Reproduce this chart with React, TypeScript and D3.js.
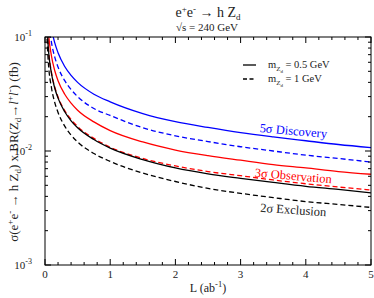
import React from "react";
import * as d3 from "d3";

// luminosity points (ab^-1)
const lumi = [0.02, 0.05, 0.1, 0.15, 0.2, 0.3, 0.4, 0.5, 0.75, 1, 1.5, 2, 2.5, 3, 3.5, 4, 4.5, 5];

// sigma x BR (fb) needed
const disc05 = [0.446, 0.204, 0.119, 0.0888, 0.0727, 0.0554, 0.0461, 0.04, 0.0315, 0.027, 0.0213, 0.0181, 0.0161, 0.0145, 0.0133, 0.0123, 0.0114, 0.0107];
const disc1 = [0.335, 0.153, 0.0893, 0.0666, 0.0545, 0.0416, 0.0346, 0.03, 0.0236, 0.0205, 0.016, 0.0136, 0.0121, 0.0109, 0.01, 0.0092, 0.0086, 0.008];
const obs05 = [0.254, 0.116, 0.0678, 0.0506, 0.0414, 0.0316, 0.0263, 0.0228, 0.018, 0.0151, 0.012, 0.0102, 0.0091, 0.0083, 0.0076, 0.0071, 0.0066, 0.00625];
const obs1 = [0.183, 0.0836, 0.0488, 0.0364, 0.0298, 0.0227, 0.0189, 0.0164, 0.0129, 0.0108, 0.0086, 0.0074, 0.0066, 0.00607, 0.00557, 0.00516, 0.00483, 0.00455];
const excl05 = [0.178, 0.0816, 0.0476, 0.0355, 0.0291, 0.0222, 0.0184, 0.016, 0.0126, 0.0106, 0.0084, 0.0071, 0.0063, 0.00576, 0.0053, 0.0049, 0.0046, 0.0043];
const excl1 = [0.134, 0.0612, 0.0357, 0.0266, 0.0218, 0.0166, 0.0138, 0.012, 0.0095, 0.0081, 0.0064, 0.0054, 0.0047, 0.00425, 0.0039, 0.0036, 0.0034, 0.0032];

const xTicks = [0, 1, 2, 3, 4, 5];
const yTickExp = [-1, -2, -3];

const W = 374, H = 298;
const left = 45, right = 371, top = 37, bottom = 265;
const font = "'Liberation Serif', 'Times New Roman', serif";
const ink = "#222";

const App = () => {
  const x = d3.scaleLinear().domain([0, 5]).range([left, right]);
  const y = d3.scaleLog().domain([0.001, 0.1]).range([bottom, top]);

  const line = (vals: number[]) =>
    d3.line<number>()
      .x((d, i) => x(lumi[i]))
      .y((d) => y(d))
      .curve(d3.curveMonotoneX)(vals) as string;

  const series = [
    { v: disc05, c: "#0000ff", dash: "" },
    { v: disc1, c: "#0000ff", dash: "5,3" },
    { v: obs05, c: "#ff0000", dash: "" },
    { v: obs1, c: "#ff0000", dash: "5,3" },
    { v: excl05, c: "#000000", dash: "" },
    { v: excl1, c: "#000000", dash: "5,3" },
  ];

  const minorX = d3.range(0, 5.001, 0.2).filter((t) => Math.abs(t - Math.round(t)) > 0.01);
  const minorY: number[] = [];
  [0.001, 0.01].forEach((b) => {
    for (let k = 2; k <= 9; k++) minorY.push(b * k);
  });

  return (
    <svg width={W} height={H} style={{ position: "absolute", left: 0, top: 0 }}>
      <rect width={W} height={H} fill="#fff" />
      <defs>
        <clipPath id="plot">
          <rect x={left} y={top} width={right - left} height={bottom - top} />
        </clipPath>
      </defs>

      {/* title */}
      <text x={208} y={17} textAnchor="middle" fontFamily={font} fontSize={14} fill={ink}>
        e<tspan dy={-5} fontSize={9}>+</tspan><tspan dy={5}>e</tspan><tspan dy={-5} fontSize={9}>-</tspan>
        <tspan dy={5}> → h Z</tspan><tspan dy={3} fontSize={9}>d</tspan>
      </text>
      <text x={207} y={31} textAnchor="middle" fontFamily={font} fontSize={11} fill={ink}>
        √s = 240 GeV
      </text>

      {/* curves */}
      <g clipPath="url(#plot)">
        {series.map((s, i) => (
          <path key={i} d={line(s.v)} fill="none" stroke={s.c} strokeWidth={1.3} strokeDasharray={s.dash} />
        ))}
      </g>

      {/* frame and ticks */}
      <rect x={left} y={top} width={right - left} height={bottom - top} fill="none" stroke="#000" strokeWidth={1} />
      {xTicks.map((t) => (
        <g key={"xt" + t}>
          <line x1={x(t)} x2={x(t)} y1={bottom} y2={bottom - 6} stroke="#000" />
          <line x1={x(t)} x2={x(t)} y1={top} y2={top + 6} stroke="#000" />
          <text x={x(t)} y={bottom + 13} textAnchor="middle" fontFamily={font} fontSize={11} fill={ink}>{t}</text>
        </g>
      ))}
      {minorX.map((t, i) => (
        <g key={"xm" + i}>
          <line x1={x(t)} x2={x(t)} y1={bottom} y2={bottom - 3} stroke="#000" />
          <line x1={x(t)} x2={x(t)} y1={top} y2={top + 3} stroke="#000" />
        </g>
      ))}
      {yTickExp.map((e) => (
        <g key={"yt" + e}>
          <line x1={left} x2={left + 6} y1={y(Math.pow(10, e))} y2={y(Math.pow(10, e))} stroke="#000" />
          <line x1={right} x2={right - 6} y1={y(Math.pow(10, e))} y2={y(Math.pow(10, e))} stroke="#000" />
          <text x={left - 13} y={y(Math.pow(10, e)) + 4} textAnchor="end" fontFamily={font} fontSize={11} fill={ink}>
            10<tspan dy={-5} fontSize={8}>{e}</tspan>
          </text>
        </g>
      ))}
      {minorY.map((t, i) => (
        <g key={"ym" + i}>
          <line x1={left} x2={left + 3} y1={y(t)} y2={y(t)} stroke="#000" />
          <line x1={right} x2={right - 3} y1={y(t)} y2={y(t)} stroke="#000" />
        </g>
      ))}

      {/* axis labels */}
      <text x={208} y={292} textAnchor="middle" fontFamily={font} fontSize={12} fill={ink}>
        L (ab<tspan dy={-5} fontSize={8.5}>-1</tspan><tspan dy={5}>)</tspan>
      </text>
      <text transform="translate(18,152) rotate(-90)" textAnchor="middle" fontFamily={font} fontSize={13} fill={ink}>
        σ(e<tspan dy={-5} fontSize={9}>+</tspan><tspan dy={5}>e</tspan><tspan dy={-5} fontSize={9}>-</tspan>
        <tspan dy={5}> → h Z</tspan><tspan dy={3} fontSize={9}>d</tspan><tspan dy={-3}>) x BR(Z</tspan>
        <tspan dy={3} fontSize={9}>d</tspan><tspan dy={-3}>→</tspan><tspan fontStyle="italic">l</tspan>
        <tspan dy={-5} fontSize={9}>+</tspan><tspan dy={5} fontStyle="italic">l</tspan>
        <tspan dy={-5} fontSize={9}>-</tspan><tspan dy={5}>) (fb)</tspan>
      </text>

      {/* legend */}
      <line x1={243} x2={256} y1={65} y2={65} stroke="#000" strokeWidth={1.3} />
      <line x1={243} x2={256} y1={79} y2={79} stroke="#000" strokeWidth={1.3} strokeDasharray="4,2.5" />
      <text x={268} y={68} fontFamily={font} fontSize={10.5} fill={ink}>
        m<tspan dy={3} fontSize={7}>Z</tspan><tspan dy={2} fontSize={5}>d</tspan><tspan dy={-5}> = 0.5 GeV</tspan>
      </text>
      <text x={268} y={82} fontFamily={font} fontSize={10.5} fill={ink}>
        m<tspan dy={3} fontSize={7}>Z</tspan><tspan dy={2} fontSize={5}>d</tspan><tspan dy={-5}> = 1 GeV</tspan>
      </text>

      {/* curve labels */}
      <text transform="translate(293,135) rotate(5)" textAnchor="middle" fontFamily={font} fontSize={12.5} fill="#0000ff">5σ Discovery</text>
      <text transform="translate(293,180) rotate(5)" textAnchor="middle" fontFamily={font} fontSize={12.5} fill="#ff0000">3σ Observation</text>
      <text transform="translate(293,214) rotate(4)" textAnchor="middle" fontFamily={font} fontSize={12.5} fill={ink}>2σ Exclusion</text>
    </svg>
  );
};

export default App;
